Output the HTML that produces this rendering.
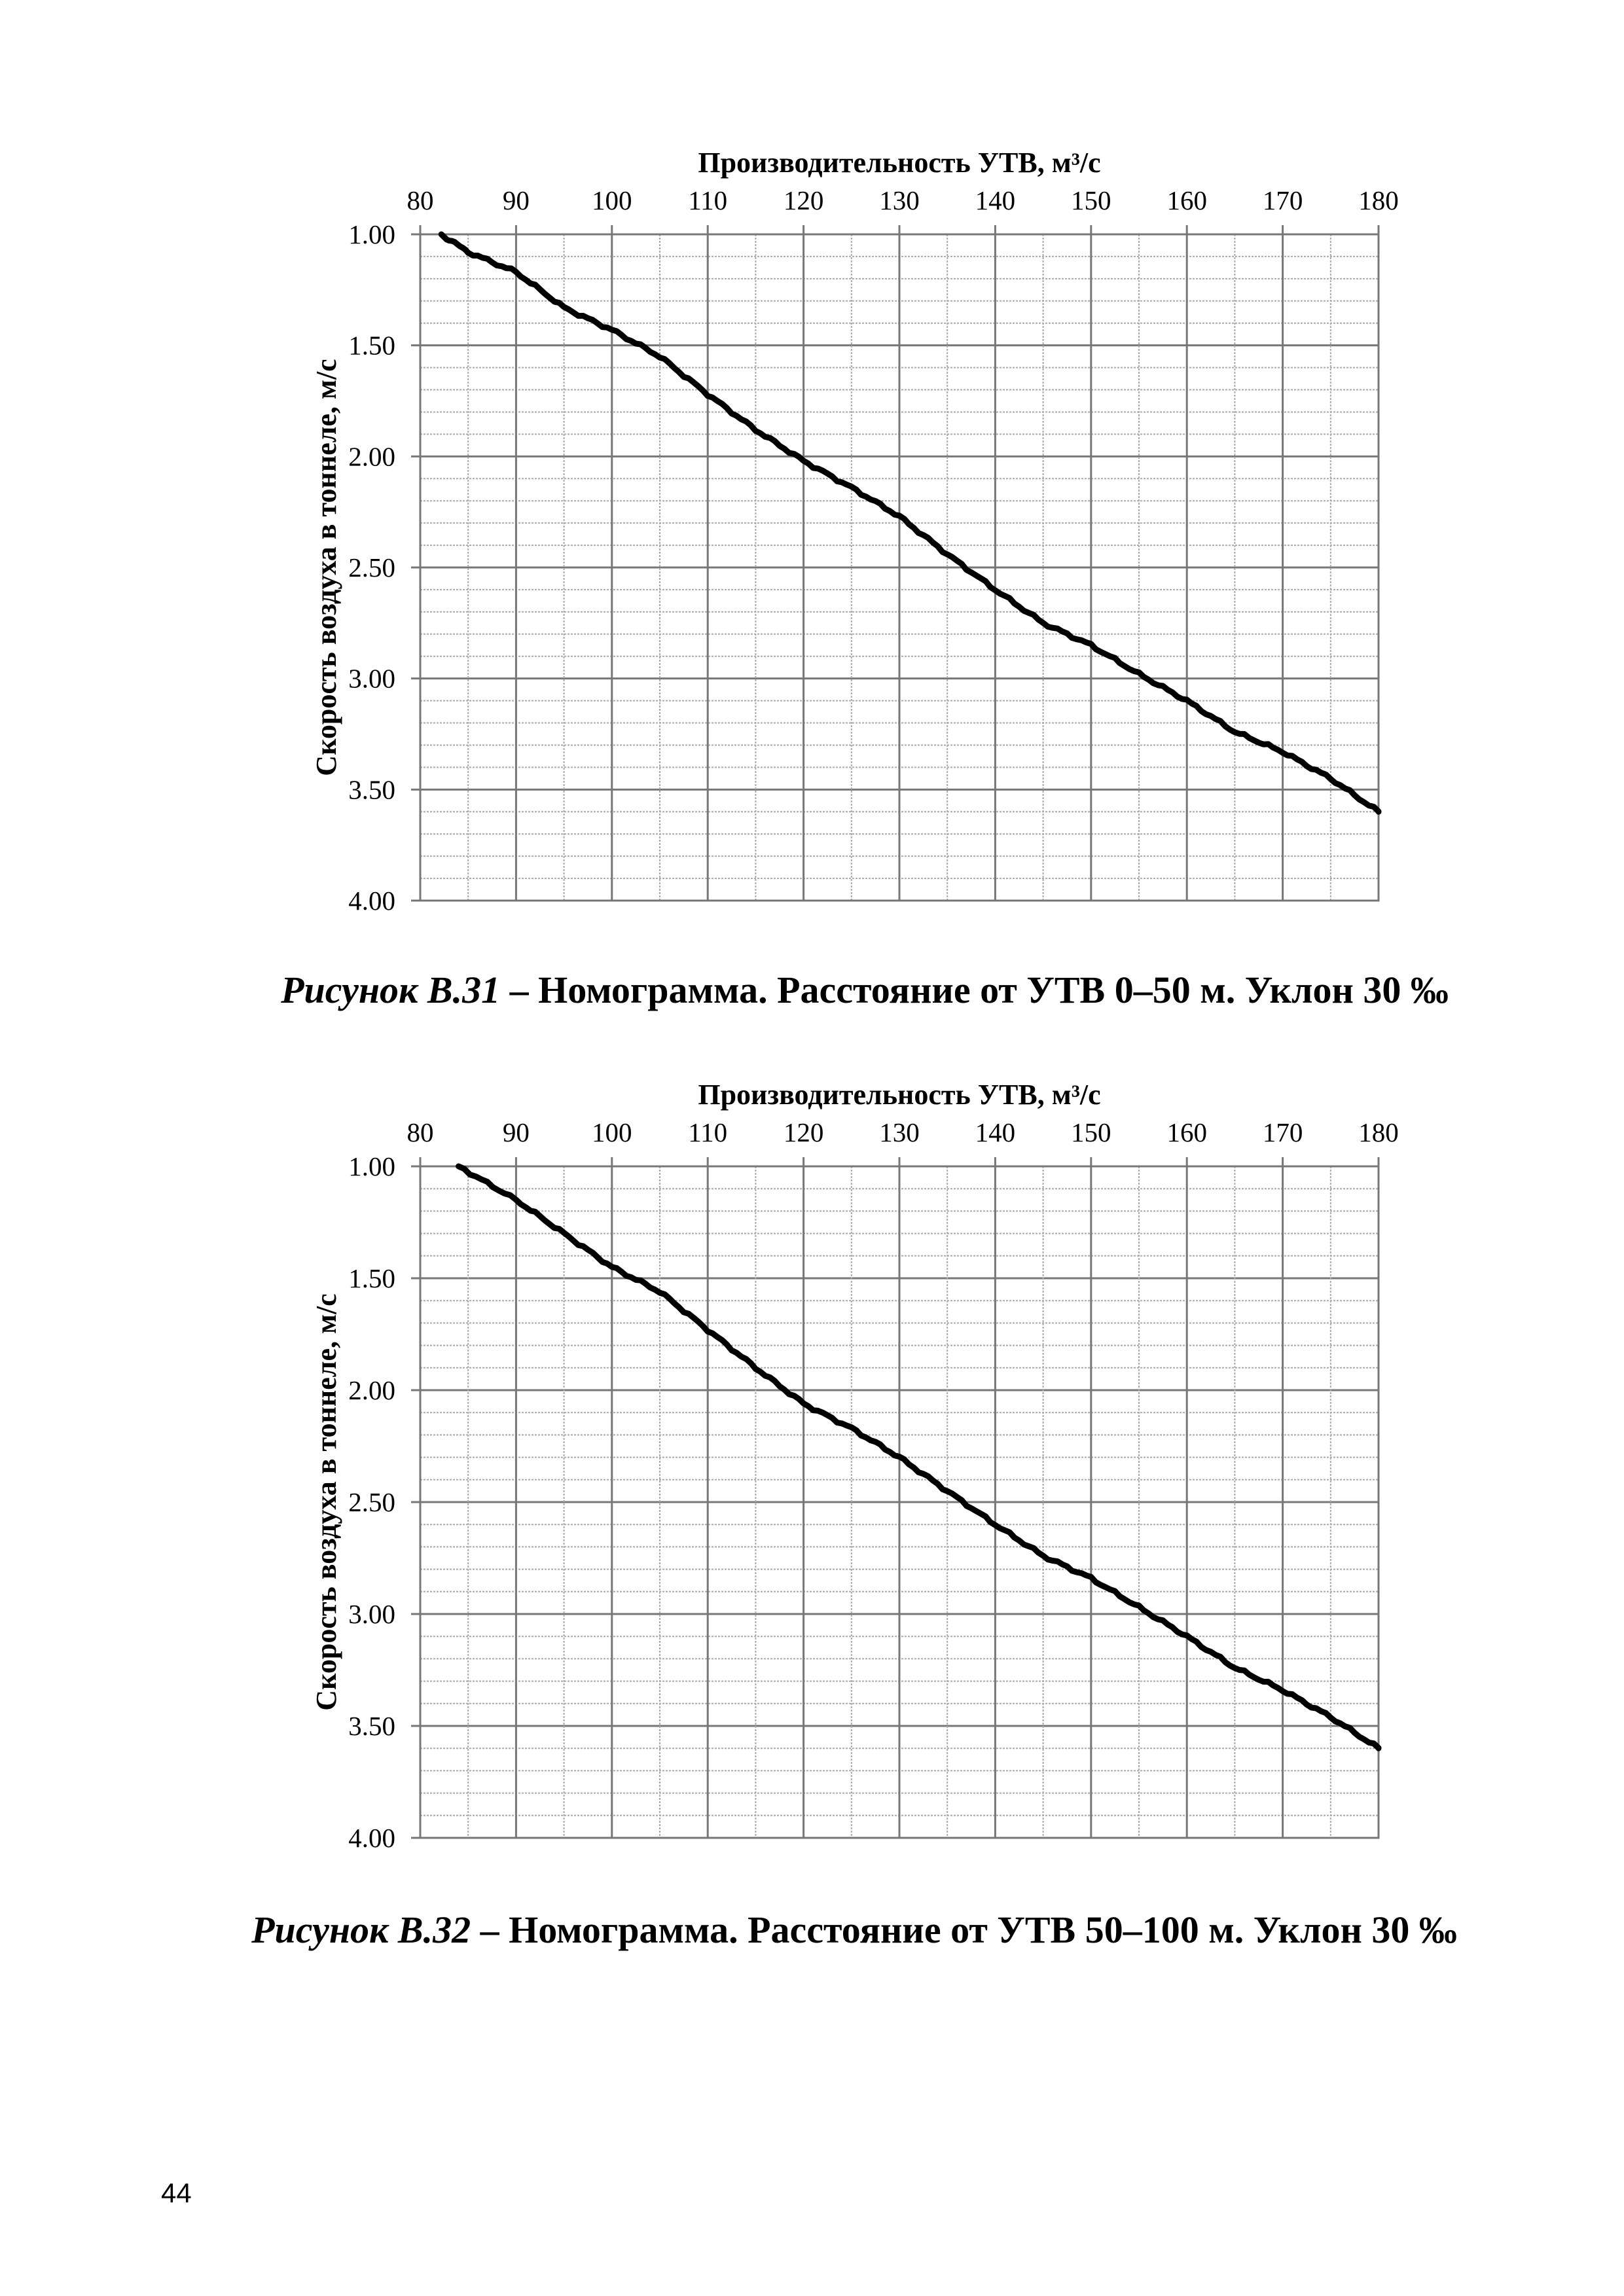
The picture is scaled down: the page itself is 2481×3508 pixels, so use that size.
<!DOCTYPE html>
<html><head><meta charset="utf-8"><style>
html,body{margin:0;padding:0;background:#fff;}
svg{display:block;}
</style></head><body>
<svg id="s" width="2481" height="3508" viewBox="0 0 2481 3508" xmlns="http://www.w3.org/2000/svg">
<rect width="2481" height="3508" fill="#fff"/>
<g font-family="'Liberation Serif', serif" fill="#000">
<text x="1374" y="263" font-size="44" font-weight="bold" text-anchor="middle">Производительность УТВ, м³/с</text>
<text x="1374" y="1687" font-size="44" font-weight="bold" text-anchor="middle">Производительность УТВ, м³/с</text>
<text x="1321" y="1532" font-size="58" font-weight="bold" text-anchor="middle"><tspan font-style="italic">Рисунок В.31</tspan> – Номограмма. Расстояние от УТВ 0–50 м. Уклон 30 ‰</text>
<text x="1305" y="2968" font-size="58" font-weight="bold" text-anchor="middle"><tspan font-style="italic">Рисунок В.32</tspan> – Номограмма. Расстояние от УТВ 50–100 м. Уклон 30 ‰</text>
</g>
<text x="246" y="3365" font-family="'Liberation Sans', sans-serif" font-size="42">44</text>
<g id="charts"></g>
</svg>
<script>
var NS="http://www.w3.org/2000/svg";
var g=document.getElementById("charts");
function el(t,a,txt){var e=document.createElementNS(NS,t);for(var k in a)e.setAttribute(k,a[k]);if(txt)e.textContent=txt;g.appendChild(e);return e;}
function chart(top,bot,data){
 var L=642,R=2106;
 function X(v){return L+(v-80)/100*(R-L);}
 function Y(v){return top+(v-1)/3*(bot-top);}
 for(var i=0;i<=30;i++){var v=1+i*0.1;var y=Y(v);var maj=(i%5==0);
  el("line",{x1:maj?L-14:L,x2:R,y1:y,y2:y,stroke:maj?"#777":"#aaa","stroke-width":maj?3:2,"stroke-dasharray":maj?"":"3,2"});}
 for(var i=0;i<=20;i++){var v=80+i*5;var x=X(v);var maj=(i%2==0);
  el("line",{x1:x,x2:x,y1:maj?top-14:top,y2:bot,stroke:maj?"#777":"#aaa","stroke-width":maj?3:2,"stroke-dasharray":maj?"":"3,2"});}
 el("rect",{x:L,y:top,width:R-L,height:bot-top,fill:"none",stroke:"#777","stroke-width":3});
 for(var i=0;i<=10;i++){el("text",{x:X(80+i*10),y:top-38,"font-size":41,"text-anchor":"middle","font-family":"'Liberation Serif', serif"},String(80+i*10));}
 for(var i=0;i<=6;i++){var v=1+i*0.5;el("text",{x:604,y:Y(v)+14,"font-size":41,"text-anchor":"end","font-family":"'Liberation Serif', serif"},v.toFixed(2));}
 var cy=(top+bot)/2;
 el("text",{x:0,y:0,"font-size":44,"font-weight":"bold","text-anchor":"middle","font-family":"'Liberation Serif', serif",transform:"translate(513,"+cy+") rotate(-90)"},"Скорость воздуха в тоннеле, м/с");
 var pts=[];
 for(var j=0;j<data.length-1;j++){var a=data[j],b=data[j+1];
  for(var t=0;t<1;t+=0.1){var xv=a[0]+(b[0]-a[0])*t,yv=a[1]+(b[1]-a[1])*t;
   yv+=0.005*Math.sin(xv*2.3)+0.003*Math.sin(xv*5.1);
   if(yv<1)yv=1;pts.push(X(xv).toFixed(1)+","+Y(yv).toFixed(1));}}
 var l=data[data.length-1];pts.push(X(l[0])+","+Y(l[1]));
 el("polyline",{points:pts.join(" "),fill:"none",stroke:"#000","stroke-width":9,"stroke-linejoin":"round","stroke-linecap":"round"});
}
chart(358,1376,[[82.2,1.0],[85,1.08],[90,1.17],[95,1.33],[100,1.43],[105,1.55],[110,1.72],[115,1.88],[120,2.02],[125,2.14],[130,2.27],[135,2.44],[140,2.6],[145,2.75],[150,2.85],[155,2.98],[160,3.1],[165,3.24],[170,3.33],[175,3.45],[180,3.6]]);
chart(1782,2808,[[84,1.0],[90,1.15],[95,1.3],[100,1.45],[105,1.56],[110,1.73],[115,1.9],[120,2.06],[125,2.17],[130,2.3],[135,2.45],[140,2.6],[145,2.74],[150,2.84],[155,2.97],[160,3.1],[165,3.24],[170,3.34],[175,3.46],[180,3.6]]);
</script>
</body></html>
